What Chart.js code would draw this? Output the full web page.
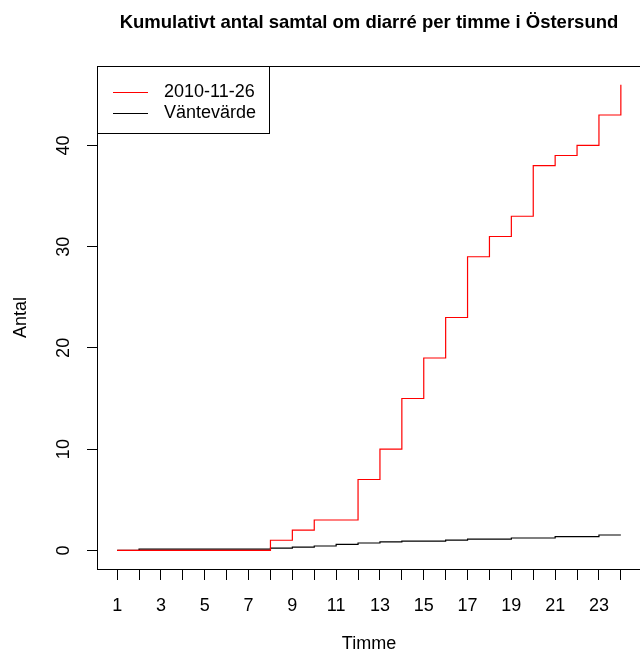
<!DOCTYPE html>
<html>
<head>
<meta charset="utf-8">
<script src="https://cdn.jsdelivr.net/npm/chart.js@4/dist/chart.umd.min.js"></script>
<style>
  html, body { margin: 0; padding: 0; background: #fff; overflow: hidden; }
  #wrap { width: 642px; height: 657px; }
</style>
</head>
<body>
<div id="wrap"><canvas id="c" width="642" height="657"></canvas></div>
<script>
// Hour of day
const hours = [1,2,3,4,5,6,7,8,9,10,11,12,13,14,15,16,17,18,19,20,21,22,23,24];
// Cumulative number of calls on 2010-11-26
const observed = [0,0,0,0,0,0,0,1,2,3,3,7,10,15,19,23,29,31,33,38,39,40,43,46];
// Cumulative expected number of calls
const expected = [0,0.13,0.13,0.13,0.13,0.13,0.13,0.23,0.33,0.43,0.59,0.73,0.83,0.92,0.92,1.02,1.12,1.12,1.22,1.22,1.35,1.35,1.52,1.52];
const seriesNames = ['2010-11-26', 'Väntevärde'];
const yTickValues = [0, 10, 20, 30, 40];
const xTickValues = hours;
const xTickLabels = hours.map(h => (h % 2 === 1 ? String(h) : ''));

const titleText = 'Kumulativt antal samtal om diarré per timme i Östersund';
const FONT = '"Liberation Sans", Arial, Helvetica, sans-serif';

const frame = {
  id: 'frame',
  afterDraw(chart) {
    const ctx = chart.ctx;
    const a = chart.chartArea;
    const ys = chart.scales.y;
    ctx.save();
    // plot box
    ctx.strokeStyle = '#000';
    ctx.lineWidth = 1;
    ctx.strokeRect(Math.round(a.left) + 0.5, Math.round(a.top) + 0.5,
                   Math.round(a.right - a.left), Math.round(a.bottom - a.top));
    // y tick labels, parallel to the axis
    ctx.fillStyle = '#000';
    ctx.font = '18px ' + FONT;
    ctx.textAlign = 'center';
    ctx.textBaseline = 'middle';
    yTickValues.forEach(v => {
      const py = ys.getPixelForValue(v);
      ctx.save();
      ctx.translate(64, py);
      ctx.rotate(-Math.PI / 2);
      ctx.fillText(String(v), 0, 0);
      ctx.restore();
    });
    // main title
    ctx.font = 'bold 18.5px ' + FONT;
    ctx.textBaseline = 'alphabetic';
    ctx.fillText(titleText, (a.left + a.right) / 2, 27.5);
    // legend
    const lx = Math.round(a.left) + 0.5, ly = Math.round(a.top) + 0.5;
    ctx.strokeRect(lx, ly, 172, 67);
    ctx.font = '18px ' + FONT;
    ctx.textAlign = 'left';
    ctx.textBaseline = 'middle';
    chart.data.datasets.forEach((ds, i) => {
      const yy = Math.round(a.top + 25.5 + i * 21) + 0.5;
      ctx.strokeStyle = ds.borderColor;
      ctx.beginPath();
      ctx.moveTo(a.left + 16, yy);
      ctx.lineTo(a.left + 51, yy);
      ctx.stroke();
      ctx.fillStyle = '#000';
      ctx.fillText(ds.label, a.left + 67, yy);
    });
    ctx.restore();
  }
};

new Chart(document.getElementById('c'), {
  type: 'line',
  data: {
    datasets: [
      {
        label: seriesNames[0],
        data: hours.map((h, i) => ({ x: h, y: observed[i] })),
        borderColor: '#ff0000',
        borderWidth: 1.2,
        stepped: 'before',
        pointRadius: 0,
        fill: false
      },
      {
        label: seriesNames[1],
        data: hours.map((h, i) => ({ x: h, y: expected[i] })),
        borderColor: '#000000',
        borderWidth: 1.2,
        stepped: 'before',
        pointRadius: 0,
        fill: false
      }
    ]
  },
  options: {
    responsive: false,
    animation: false,
    events: [],
    layout: { padding: { top: 66, right: 1, left: 0, bottom: 0 } },
    plugins: {
      legend: { display: false },
      title: { display: false },
      tooltip: { enabled: false }
    },
    scales: {
      x: {
        type: 'linear',
        min: 0.08,
        max: 24.92,
        afterBuildTicks(scale) { scale.ticks = xTickValues.map(v => ({ value: v })); },
        afterFit(scale) { scale.height = 88; },
        border: { display: false },
        grid: {
          display: true,
          drawOnChartArea: false,
          drawTicks: true,
          tickLength: 11,
          color: '#000',
          lineWidth: 1
        },
        ticks: {
          autoSkip: false,
          maxRotation: 0,
          minRotation: 0,
          padding: 15,
          color: '#000',
          font: { family: FONT, size: 18 },
          callback: (v, i) => xTickLabels[i]
        },
        title: {
          display: true,
          text: 'Timme',
          color: '#000',
          font: { family: FONT, size: 18 },
          padding: { top: 0, bottom: 2 }
        }
      },
      y: {
        type: 'linear',
        min: -1.84,
        max: 47.84,
        afterBuildTicks(scale) { scale.ticks = yTickValues.map(v => ({ value: v })); },
        afterFit(scale) { scale.width = 97; },
        border: { display: false },
        grid: {
          display: true,
          drawOnChartArea: false,
          drawTicks: true,
          tickLength: 10,
          color: '#000',
          lineWidth: 1
        },
        ticks: {
          display: false
        },
        title: {
          display: true,
          text: 'Antal',
          color: '#000',
          font: { family: FONT, size: 18 },
          padding: { top: 10, bottom: 0 }
        }
      }
    }
  },
  plugins: [frame]
});
</script>
</body>
</html>
